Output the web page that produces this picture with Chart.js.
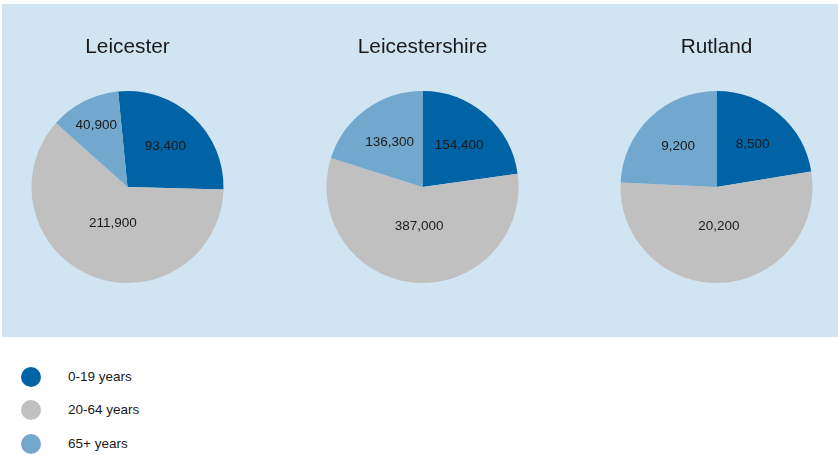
<!DOCTYPE html>
<html>
<head>
<meta charset="utf-8">
<script src="https://cdn.jsdelivr.net/npm/chart.js@4.4.1/dist/chart.umd.min.js"></script>
<style>
  html, body { margin: 0; padding: 0; background: #ffffff; }
  body { width: 838px; height: 455px; position: relative; overflow: hidden;
         font-family: "Liberation Sans", Arial, sans-serif; }
  #panel { position: absolute; left: 2px; top: 4px; width: 836px; height: 333px; background: #d0e4f2; }
  canvas.pie { position: absolute; top: 20px; }
  #legend { position: absolute; left: 21px; top: 367px; }
  .item { position: relative; height: 33.3px; }
  .dot { position: absolute; left: 0; top: 0; width: 20px; height: 20px; border-radius: 50%; }
  .lbl { position: absolute; left: 47px; top: 2px; font-size: 13.5px; color: #1a1a1a; line-height: 16px; white-space: nowrap; }
</style>
</head>
<body>
<div id="panel"></div>
<canvas id="c0" class="pie" width="241" height="263" style="left:7px"></canvas>
<canvas id="c1" class="pie" width="241" height="263" style="left:302px"></canvas>
<canvas id="c2" class="pie" width="241" height="263" style="left:596px"></canvas>
<div id="legend"></div>
<script>
// ---- Data ----
const areas = ["Leicester", "Leicestershire", "Rutland"];
const ageGroups = ["0-19 years", "20-64 years", "65+ years"];
const leicester = [93400, 211900, 40900];
const leicestershire = [154400, 387000, 136300];
const rutland = [8500, 20200, 9200];
const seriesByArea = [leicester, leicestershire, rutland];

// ---- Style ----
const groupColors = ["#0063a6", "#c0c0c0", "#72a8cd"];
const pieRotation = [-5.6, 0, 0]; // degrees, first slice start (as drawn in the original)
const FONT = '"Liberation Sans", Arial, sans-serif';

const sliceLabels = {
  id: 'sliceLabels',
  afterDatasetsDraw(chart) {
    const ctx = chart.ctx;
    const ds = chart.data.datasets[0];
    const total = ds.data.reduce((a, b) => a + b, 0);
    const meta = chart.getDatasetMeta(0);
    ctx.save();
    ctx.font = '13.5px ' + FONT;
    ctx.fillStyle = '#1a1a1a';
    ctx.textAlign = 'center';
    ctx.textBaseline = 'middle';
    meta.data.forEach((arc, i) => {
      const p = arc.getProps(['x', 'y', 'startAngle', 'endAngle', 'outerRadius'], true);
      const mid = (p.startAngle + p.endAngle) / 2;
      const pct = ds.data[i] / total;
      const fr = pct > 0.5 ? 0.41 : (pct < 0.15 ? 0.72 : 0.58);
      const r = p.outerRadius * fr;
      ctx.fillText(ds.data[i].toLocaleString('en-GB'), p.x + Math.cos(mid) * r, p.y + Math.sin(mid) * r);
    });
    ctx.restore();
  }
};

areas.forEach((name, k) => {
  new Chart(document.getElementById('c' + k), {
    type: 'pie',
    data: {
      labels: ageGroups,
      datasets: [{
        data: seriesByArea[k],
        backgroundColor: groupColors,
        borderWidth: 0
      }]
    },
    options: {
      responsive: false,
      animation: false,
      devicePixelRatio: 1,
      events: [],
      rotation: pieRotation[k],
      layout: { padding: 0 },
      plugins: {
        legend: { display: false },
        tooltip: { enabled: false },
        title: {
          display: true,
          text: name,
          color: '#1a1a1a',
          font: { family: FONT, size: 20.8, weight: 'normal', lineHeight: 1.2 },
          padding: { top: 15, bottom: 31 }
        }
      }
    },
    plugins: [sliceLabels]
  });
});

// HTML legend built from the same arrays
const legend = document.getElementById('legend');
ageGroups.forEach((g, i) => {
  const item = document.createElement('div');
  item.className = 'item';
  const dot = document.createElement('div');
  dot.className = 'dot';
  dot.style.background = groupColors[i];
  const lbl = document.createElement('div');
  lbl.className = 'lbl';
  lbl.textContent = g;
  item.appendChild(dot);
  item.appendChild(lbl);
  legend.appendChild(item);
});
</script>
</body>
</html>
